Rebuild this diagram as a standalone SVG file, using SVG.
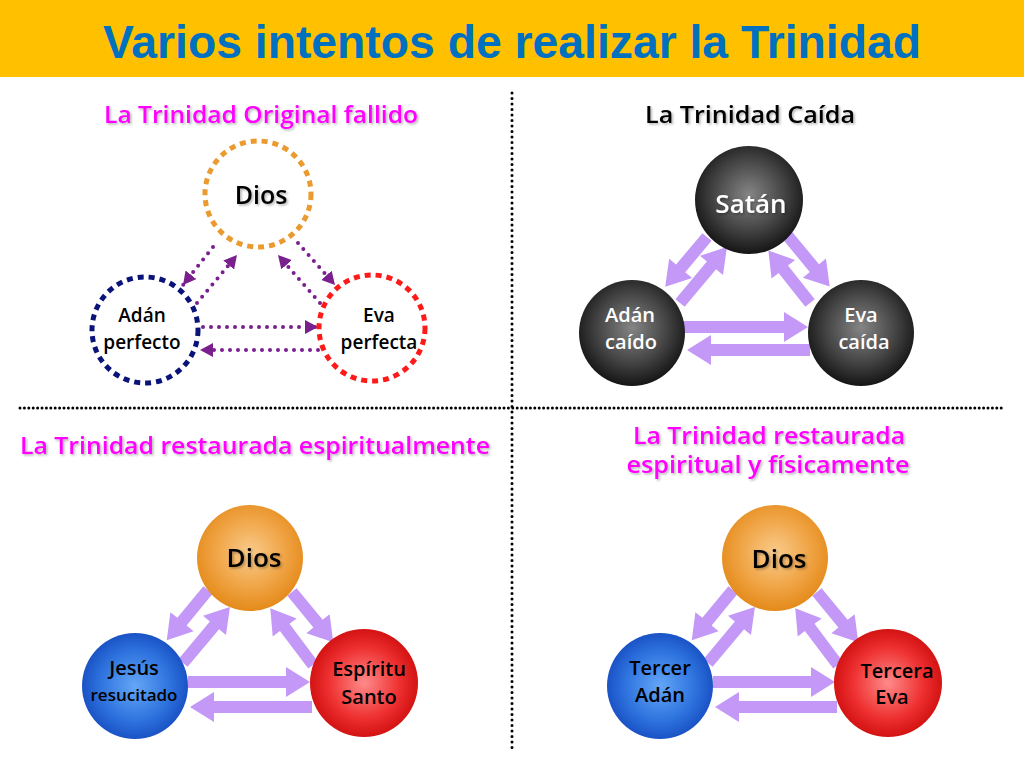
<svg xmlns="http://www.w3.org/2000/svg" width="1024" height="768" viewBox="0 0 1024 768">
<defs>
<style>
.t{font-family:"Open Sans","Liberation Sans",sans-serif;font-weight:600;text-anchor:middle}
.sub{font-family:"Open Sans","Liberation Sans",sans-serif;font-weight:600;font-size:23px;text-anchor:middle}
.mag{fill:#FF00FF}
.blk{fill:#000}
.wt{fill:#fff}
.div{stroke:#000;stroke-width:3;stroke-linecap:round;fill:none}
.dash{fill:#fff;stroke-width:5;stroke-dasharray:6 5}
.dot{stroke:#7A1F8E;stroke-width:4;stroke-linecap:round;stroke-dasharray:0 8;fill:none}
.ba{fill:#C398F7}
</style>
<filter id="sh" x="-10%" y="-20%" width="120%" height="150%">
<feDropShadow dx="1.5" dy="1.5" stdDeviation="0.8" flood-color="#000" flood-opacity="0.3"/>
</filter>
<marker id="ah" markerUnits="userSpaceOnUse" markerWidth="14" markerHeight="14" refX="13" refY="7" orient="auto">
<path d="M0,0 L13,7 L0,14 Z" fill="#7A1F8E"/>
</marker>
<radialGradient id="gBlack" cx="50%" cy="45%" r="55%">
<stop offset="0" stop-color="#858585"/>
<stop offset="0.6" stop-color="#444"/>
<stop offset="1" stop-color="#151515"/>
</radialGradient>
<radialGradient id="gOrange" cx="50%" cy="45%" r="55%">
<stop offset="0" stop-color="#F9CB8C"/>
<stop offset="0.6" stop-color="#F0A445"/>
<stop offset="1" stop-color="#E48A1A"/>
</radialGradient>
<radialGradient id="gBlue" cx="50%" cy="50%" r="55%">
<stop offset="0" stop-color="#64A6F7"/>
<stop offset="0.6" stop-color="#2E73DE"/>
<stop offset="1" stop-color="#1449BE"/>
</radialGradient>
<radialGradient id="gRed" cx="50%" cy="50%" r="55%">
<stop offset="0" stop-color="#FF8A8A"/>
<stop offset="0.6" stop-color="#EE3030"/>
<stop offset="1" stop-color="#CC0A0A"/>
</radialGradient>
</defs>

<rect x="0" y="0" width="1024" height="768" fill="#fff"/>
<rect id="header" x="0" y="0" width="1024" height="77" fill="#FFC000"/>
<text x="512" y="58" font-family="'Liberation Sans',sans-serif" font-weight="bold" font-size="46" fill="#0070C0" text-anchor="middle" textLength="818" lengthAdjust="spacingAndGlyphs">Varios intentos de realizar la Trinidad</text>

<g id="dividers">
<line class="div" x1="512" y1="93" x2="512" y2="750" stroke-dasharray="0 5.5"/>
<line class="div" x1="20" y1="408" x2="1004" y2="408" stroke-dasharray="0 4.4"/>
</g>

<g id="subtitles" filter="url(#sh)">
<text class="sub mag" x="261" y="123" textLength="314" lengthAdjust="spacingAndGlyphs">La Trinidad Original fallido</text>
<text class="sub blk" x="750" y="123" textLength="210" lengthAdjust="spacingAndGlyphs">La Trinidad Caída</text>
<text class="sub mag" x="255" y="454" textLength="470" lengthAdjust="spacingAndGlyphs">La Trinidad restaurada espiritualmente</text>
<text class="sub mag" x="769" y="444" font-size="21" textLength="272" lengthAdjust="spacingAndGlyphs">La Trinidad restaurada</text>
<text class="sub mag" x="768" y="473" font-size="21" textLength="283" lengthAdjust="spacingAndGlyphs">espiritual y físicamente</text>
</g>

<g id="connectors">
<!-- panel 1 dotted -->
<line class="dot" x1="213" y1="247" x2="183" y2="285" marker-end="url(#ah)"/>
<line class="dot" x1="197" y1="303" x2="237" y2="255" marker-end="url(#ah)"/>
<line class="dot" x1="298" y1="243" x2="335" y2="285" marker-end="url(#ah)"/>
<line class="dot" x1="320" y1="303" x2="278" y2="255" marker-end="url(#ah)"/>
<line class="dot" x1="203" y1="327" x2="318" y2="327" marker-end="url(#ah)"/>
<line class="dot" x1="318" y1="350" x2="200" y2="350" marker-end="url(#ah)"/>
<!-- panel 2 block arrows -->
<path class="ba" transform="translate(707,237) rotate(130)" d="M0,-6 H41 V-15 L65,0 L41,15 V6 H0 Z"/>
<path class="ba" transform="translate(680,303) rotate(-50)" d="M0,-6 H49 V-15 L73,0 L49,15 V6 H0 Z"/>
<path class="ba" transform="translate(787,235) rotate(50.4)" d="M0,-6 H43 V-15 L67,0 L43,15 V6 H0 Z"/>
<path class="ba" transform="translate(810,303) rotate(-128.4)" d="M0,-6 H43 V-15 L67,0 L43,15 V6 H0 Z"/>
<path class="ba" transform="translate(683,327)" d="M0,-6 H101 V-15 L125,0 L101,15 V6 H0 Z"/>
<path class="ba" transform="translate(810,350) rotate(180)" d="M0,-6 H99 V-15 L123,0 L99,15 V6 H0 Z"/>
<!-- panel 3 block arrows -->
<path class="ba" transform="translate(208,590) rotate(129.4)" d="M0,-6 H41 V-15 L65,0 L41,15 V6 H0 Z"/>
<path class="ba" transform="translate(183,663) rotate(-50)" d="M0,-6 H49 V-15 L73,0 L49,15 V6 H0 Z"/>
<path class="ba" transform="translate(292,592) rotate(50.6)" d="M0,-6 H41 V-15 L65,0 L41,15 V6 H0 Z"/>
<path class="ba" transform="translate(313,665) rotate(-127)" d="M0,-6 H47 V-15 L71,0 L47,15 V6 H0 Z"/>
<path class="ba" transform="translate(188,682)" d="M0,-6 H98 V-15 L122,0 L98,15 V6 H0 Z"/>
<path class="ba" transform="translate(312,707) rotate(180)" d="M0,-6 H98 V-15 L122,0 L98,15 V6 H0 Z"/>
<!-- panel 4 block arrows -->
<path class="ba" transform="translate(733,590) rotate(129.4)" d="M0,-6 H41 V-15 L65,0 L41,15 V6 H0 Z"/>
<path class="ba" transform="translate(708,663) rotate(-50)" d="M0,-6 H49 V-15 L73,0 L49,15 V6 H0 Z"/>
<path class="ba" transform="translate(817,592) rotate(50.6)" d="M0,-6 H41 V-15 L65,0 L41,15 V6 H0 Z"/>
<path class="ba" transform="translate(838,665) rotate(-127)" d="M0,-6 H47 V-15 L71,0 L47,15 V6 H0 Z"/>
<path class="ba" transform="translate(713,682)" d="M0,-6 H98 V-15 L122,0 L98,15 V6 H0 Z"/>
<path class="ba" transform="translate(837,707) rotate(180)" d="M0,-6 H98 V-15 L122,0 L98,15 V6 H0 Z"/>
</g>

<!-- Panel 1 nodes -->
<g id="p1-dios">
<circle class="dash" cx="258" cy="194" r="53" stroke="#EA9A2E"/>
<text class="t blk" x="261" y="204" font-size="25" filter="url(#sh)">Dios</text>
</g>
<g id="p1-adan">
<circle class="dash" cx="145" cy="330" r="53" stroke="#0A1478"/>
<text class="t blk" x="142" y="322" font-size="19">Adán</text>
<text class="t blk" x="142" y="349" font-size="19">perfecto</text>
</g>
<g id="p1-eva">
<circle class="dash" cx="372" cy="328" r="53" stroke="#FF1A1A"/>
<text class="t blk" x="379" y="322" font-size="19">Eva</text>
<text class="t blk" x="379" y="349" font-size="19">perfecta</text>
</g>

<!-- Panel 2 nodes -->
<g id="p2-satan">
<circle cx="749" cy="200" r="54" fill="url(#gBlack)"/>
<text class="t wt" x="751" y="213" font-size="26" filter="url(#sh)">Satán</text>
</g>
<g id="p2-adan">
<circle cx="632" cy="333" r="53" fill="url(#gBlack)"/>
<text class="t wt" x="630" y="322" font-size="20">Adán</text>
<text class="t wt" x="631" y="349" font-size="20">caído</text>
</g>
<g id="p2-eva">
<circle cx="861" cy="333" r="53" fill="url(#gBlack)"/>
<text class="t wt" x="861" y="322" font-size="20">Eva</text>
<text class="t wt" x="864" y="349" font-size="20">caída</text>
</g>

<!-- Panel 3 nodes -->
<g id="p3-dios">
<circle cx="250" cy="558" r="53" fill="url(#gOrange)"/>
<text class="t blk" x="254" y="567" font-size="26" filter="url(#sh)">Dios</text>
</g>
<g id="p3-jesus">
<circle cx="135" cy="686" r="53" fill="url(#gBlue)"/>
<text class="t blk" x="134" y="675" font-size="20">Jesús</text>
<text class="t blk" x="134" y="701" font-size="17">resucitado</text>
</g>
<g id="p3-espiritu">
<circle cx="364" cy="683" r="54" fill="url(#gRed)"/>
<text class="t blk" x="369" y="676" font-size="20">Espíritu</text>
<text class="t blk" x="369" y="704" font-size="20">Santo</text>
</g>

<!-- Panel 4 nodes -->
<g id="p4-dios">
<circle cx="775" cy="558" r="53" fill="url(#gOrange)"/>
<text class="t blk" x="779" y="568" font-size="26" filter="url(#sh)">Dios</text>
</g>
<g id="p4-adan">
<circle cx="660" cy="686" r="53" fill="url(#gBlue)"/>
<text class="t blk" x="660" y="675" font-size="20">Tercer</text>
<text class="t blk" x="660" y="702" font-size="20">Adán</text>
</g>
<g id="p4-eva">
<circle cx="888" cy="683" r="54" fill="url(#gRed)"/>
<text class="t blk" x="897" y="678" font-size="20">Tercera</text>
<text class="t blk" x="892" y="704" font-size="20">Eva</text>
</g>
</svg>
